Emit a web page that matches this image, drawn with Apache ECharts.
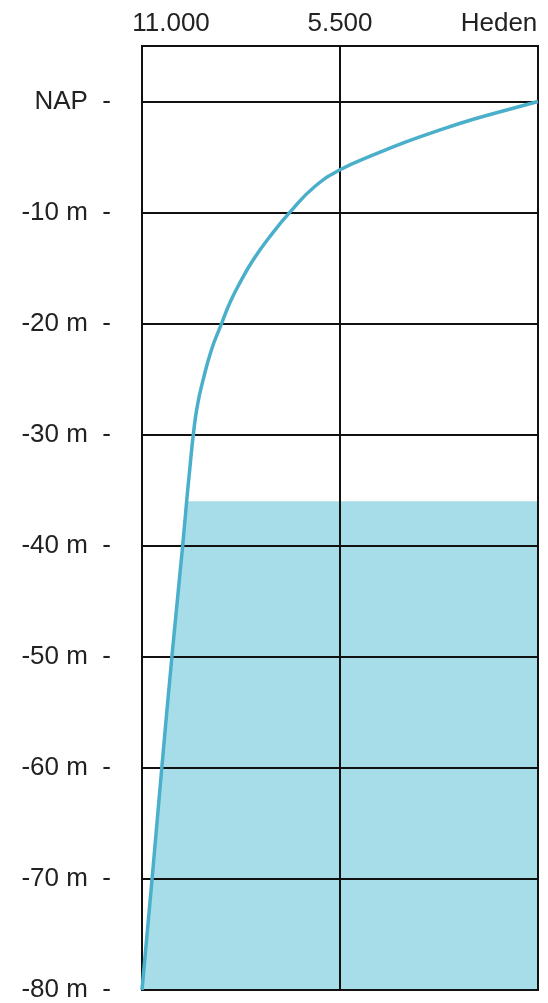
<!DOCTYPE html>
<html>
<head>
<meta charset="utf-8">
<style>
  html, body { margin: 0; padding: 0; background: #fff; }
  #chart { width: 548px; height: 1003px; }
</style>
<script src="https://cdn.jsdelivr.net/npm/echarts@6/dist/echarts.min.js"></script>
</head>
<body>
<div id="chart"></div>
<script>
// Years before present (x) and sea level in metres relative to NAP (y)
const years  = [0, 870, 1796, 2722, 3648, 4575, 5500, 6200, 6860, 7445, 7909, 8278, 8556, 8790, 9065, 9297, 9463, 9575, 9670, 9760, 9870, 10170, 10450, 10720, 11000];
const depths = [0, -0.76, -1.6, -2.56, -3.61, -4.81, -6.15, -7.65, -9.85, -12.15, -14.25, -16.3, -18.1, -20, -22.3, -25.0, -27.4, -30, -33, -36, -40, -50, -60, -70, -80];

// Shaded region below this level (to the right of the curve)
const fillTopDepth = -36;

// Axis ticks / labels
const xTicks = [11000, 5500, 0];
const xTickLabels = ['11.000', '5.500', 'Heden'];
const yTicks = [0, -10, -20, -30, -40, -50, -60, -70, -80];
const yTickLabels = ['NAP', '-10 m', '-20 m', '-30 m', '-40 m', '-50 m', '-60 m', '-70 m', '-80 m'];

const FONT = 'Liberation Sans, Arial, sans-serif';
const TXT = '#222';
const FS = 26;

const lineData = years.map((y, i) => [y, depths[i]]);
// polygon: curve part below fillTopDepth, then right edge (year 0)
const fillPts = lineData.filter(p => p[1] <= fillTopDepth);
fillPts.push([0, depths[depths.length - 1]]);
fillPts.push([0, fillTopDepth]);

const chart = echarts.init(document.getElementById('chart'), null, { renderer: 'canvas' });
chart.setOption({
  animation: false,
  backgroundColor: '#fff',
  grid: { left: 142, right: 10, top: 46, bottom: 12, show: true, borderColor: '#111', borderWidth: 2, backgroundColor: 'transparent', z: 2 },
  xAxis: {
    type: 'value', position: 'top', inverse: true,
    min: 0, max: 11000, interval: 5500, z: 2,
    axisLine: { show: false }, axisTick: { show: false },
    splitLine: { show: true, lineStyle: { color: '#111', width: 2 } },
    axisLabel: {
      margin: 9,
      formatter: v => {
        const i = xTicks.indexOf(v);
        if (i < 0) return '';
        const key = i === 0 ? 'l' : (i === 2 ? 'r' : 'c');
        return '{' + key + '|' + xTickLabels[i] + '}';
      },
      rich: {
        l: { fontSize: FS, fontFamily: FONT, color: TXT, padding: [0, 0, 0, 58] },
        c: { fontSize: FS, fontFamily: FONT, color: TXT },
        r: { fontSize: FS, fontFamily: FONT, color: TXT, padding: [0, 78, 0, 0] }
      }
    }
  },
  yAxis: {
    type: 'value', min: -80, max: 5, interval: 10, z: 2,
    axisLine: { show: false }, axisTick: { show: false },
    splitLine: { show: true, lineStyle: { color: '#111', width: 2 } },
    axisLabel: {
      margin: 31, fontSize: FS, fontFamily: FONT, color: TXT,
      formatter: v => {
        const i = yTicks.indexOf(v);
        return i < 0 ? '' : yTickLabels[i] + '  -';
      }
    }
  },
  series: [
    {
      type: 'custom', z: 1, silent: true,
      data: [[0, 0]],
      renderItem: (params, api) => ({
        type: 'polygon',
        shape: { points: fillPts.map(p => api.coord(p)) },
        style: { fill: '#a7dde9', stroke: null }
      })
    },
    {
      type: 'line', z: 3, data: lineData, smooth: 0.5, symbol: 'none',
      lineStyle: { color: '#49afca', width: 3.5 }
    }
  ]
});
</script>
</body>
</html>
